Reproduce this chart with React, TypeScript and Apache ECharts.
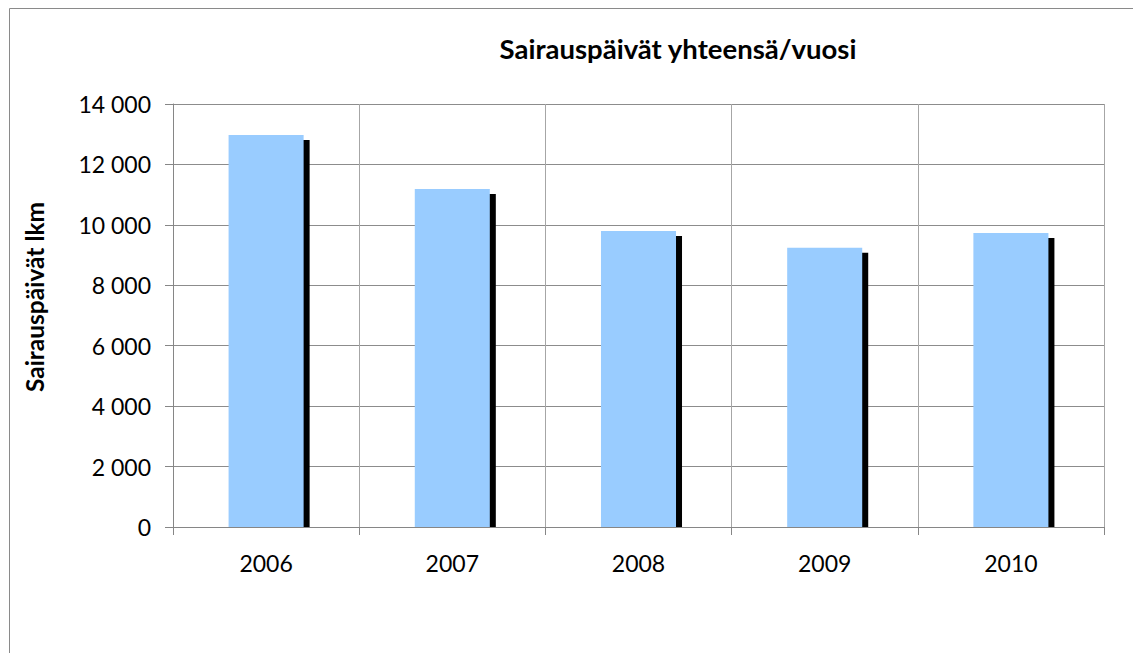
import React, { useEffect, useRef } from "react";
import * as echarts from "echarts";

const categories = ["2006", "2007", "2008", "2009", "2010"];
const values = [12970, 11190, 9800, 9240, 9730];
const yTicks = { min: 0, max: 14000, interval: 2000 };
const titleText = "Sairauspäivät yhteensä/vuosi";
const yAxisTitle = "Sairauspäivät lkm";

const FONT = "Lato, 'Open Sans', sans-serif";

function fmt(v: number): string {
  return String(v).replace(/\B(?=(\d{3})+(?!\d))/g, " ");
}

export default function App() {
  const ref = useRef<HTMLDivElement>(null);
  useEffect(() => {
    if (!ref.current) return;
    const chart = echarts.init(ref.current, undefined, { renderer: "svg" });
    chart.setOption({
      animation: false,
      backgroundColor: "#ffffff",
      textStyle: { fontFamily: FONT },
      grid: { left: 173, top: 104, right: 29, bottom: 126, containLabel: false },
      xAxis: {
        type: "category",
        data: categories,
        boundaryGap: true,
        axisLine: { show: true, lineStyle: { color: "#868686", width: 1 } },
        axisTick: { show: true, length: 8, lineStyle: { color: "#868686" } },
        axisLabel: { color: "#000", fontSize: 23, fontFamily: FONT, margin: 24 },
        splitLine: { show: true, lineStyle: { color: "#a6a6a6", width: 1 } },
      },
      yAxis: {
        type: "value",
        min: yTicks.min,
        max: yTicks.max,
        interval: yTicks.interval,
        axisLine: { show: true, lineStyle: { color: "#868686", width: 1 } },
        axisTick: { show: true, length: 8, lineStyle: { color: "#868686" } },
        axisLabel: { color: "#000", fontSize: 23, fontFamily: FONT, margin: 22, formatter: (v: number) => fmt(v) },
        splitLine: { show: true, lineStyle: { color: "#8c8c8c", width: 1 } },
      },
      graphic: [
        {
          type: "rect",
          shape: { x: 9.5, y: 8.5, width: 1300, height: 800 },
          style: { fill: "none", stroke: "#8a8a8a", lineWidth: 1 },
          silent: true,
          z: 0,
        },
        {
          type: "text",
          x: 678,
          y: 48,
          style: {
            text: titleText,
            fontFamily: FONT,
            fontWeight: "bold",
            fontSize: 27.5,
            fill: "#000",
            textAlign: "center",
            textVerticalAlign: "middle",
          },
        },
        {
          type: "text",
          x: 34,
          y: 297,
          rotation: Math.PI / 2,
          style: {
            text: yAxisTitle,
            fontFamily: FONT,
            fontWeight: "bold",
            fontSize: 24.5,
            fill: "#000",
            textAlign: "center",
            textVerticalAlign: "middle",
          },
        },
      ],
      series: [
        {
          type: "custom",
          name: "Sairauspäivät",
          data: values.map((v, i) => [i, v]),
          encode: { x: 0, y: 1 },
          renderItem: (params: any, api: any) => {
            const idx = api.value(0);
            const val = api.value(1);
            const top = api.coord([idx, val]);
            const base = api.coord([idx, 0]);
            const band = api.size([1, 0])[0];
            const w = band * 0.403;
            const left = top[0] - w / 2;
            const h = base[1] - top[1];
            return {
              type: "group",
              children: [
                {
                  type: "rect",
                  shape: { x: left + 6, y: top[1] + 5, width: w, height: h - 5 },
                  style: { fill: "#000000" },
                },
                {
                  type: "rect",
                  shape: { x: left, y: top[1], width: w, height: h },
                  style: { fill: "#99ccff" },
                },
              ],
            };
          },
        },
      ],
    });
    return () => chart.dispose();
  }, []);
  return (
    <div
      ref={ref}
      style={{ position: "absolute", left: 0, top: 0, width: 1133, height: 653 }}
    />
  );
}
